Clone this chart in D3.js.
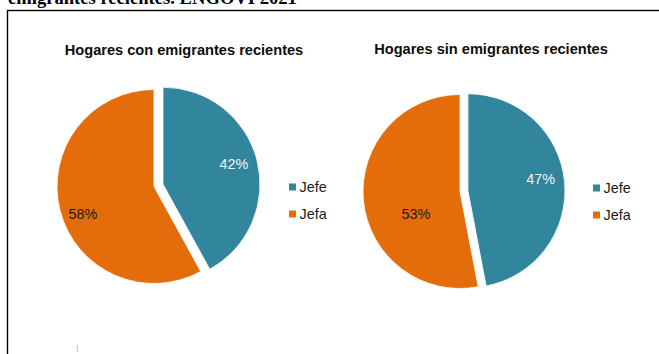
<!DOCTYPE html>
<html>
<head>
<meta charset="utf-8">
<script src="https://cdn.jsdelivr.net/npm/d3@7/dist/d3.min.js"></script>
<style>
  html, body { margin: 0; padding: 0; background: #fff; }
  svg { display: block; }
</style>
</head>
<body>
<svg id="chart" width="659" height="354"></svg>
<script>
// Sexo de la jefatura del hogar según condición de emigración reciente
const categories = ["Jefe", "Jefa"];
const conEmigrantes = [42, 58];
const sinEmigrantes = [47, 53];
const chartTitles = ["Hogares con emigrantes recientes", "Hogares sin emigrantes recientes"];
const heading = "emigrantes recientes. ENGOVI 2021";

const colors = d3.scaleOrdinal().domain(categories).range(["#31859C", "#E46C0A"]);

const svg = d3.select("#chart");

// running heading, partly scrolled out above the frame
svg.append("text")
  .attr("x", 8).attr("y", 4)
  .attr("font-family", "'Liberation Serif', 'Times New Roman', serif")
  .attr("font-weight", "bold")
  .attr("font-size", 18.6)
  .attr("fill", "#000")
  .text(heading);

// chart frame
svg.append("rect")
  .attr("x", 7.5).attr("y", 10.5)
  .attr("width", 700).attr("height", 400)
  .attr("fill", "#fff")
  .attr("stroke", "#000").attr("stroke-width", 1.4);

// small cursor mark near the bottom
svg.append("line")
  .attr("x1", 77.5).attr("x2", 77.5)
  .attr("y1", 345).attr("y2", 352)
  .attr("stroke", "#d0d0d0").attr("stroke-width", 1.5);

// layout of the two pies; label placement is polar (deg offset from mid-angle, fraction of radius)
const panels = [
  { values: conEmigrantes, title: chartTitles[0], cx: 154, cy: 186.5, r: 97, explode: 9.3,
    titleX: 184, titleY: 54.5, legendX: 289, legendY: 187,
    labelPos: [{ da: -1.5, f: 0.76 }, { da: -6.6, f: 0.785 }] },
  { values: sinEmigrantes, title: chartTitles[1], cx: 460, cy: 191.5, r: 97, explode: 8,
    titleX: 491, titleY: 53.5, legendX: 593, legendY: 188,
    labelPos: [{ da: -4, f: 0.76 }, { da: -21.6, f: 0.51 }] }
];

const pie = d3.pie().sort(null).value(d => d.value);

panels.forEach(p => {
  const g = svg.append("g");
  const data = categories.map((c, i) => ({ cat: c, value: p.values[i] }));
  const arcs = pie(data);
  const arc = d3.arc().innerRadius(0).outerRadius(p.r);

  g.append("text")
    .attr("x", p.titleX).attr("y", p.titleY)
    .attr("text-anchor", "middle")
    .attr("font-family", "'Liberation Sans', Arial, sans-serif")
    .attr("font-weight", "bold")
    .attr("font-size", 14.6)
    .attr("fill", "#0d0d0d")
    .text(p.title);

  arcs.forEach((a, i) => {
    const mid = (a.startAngle + a.endAngle) / 2;
    const off = i === 0 ? p.explode : 0;
    const ox = p.cx + off * Math.sin(mid);
    const oy = p.cy - off * Math.cos(mid);
    const sg = g.append("g").attr("transform", `translate(${ox},${oy})`);
    sg.append("path")
      .attr("d", arc(a))
      .attr("fill", colors(a.data.cat))
      .attr("stroke", "#fff").attr("stroke-width", 0.8);

    const lp = p.labelPos[i];
    const ang = mid + lp.da * Math.PI / 180;
    const lr = lp.f * p.r;
    sg.append("text")
      .attr("x", lr * Math.sin(ang))
      .attr("y", -lr * Math.cos(ang))
      .attr("dy", "0.35em")
      .attr("text-anchor", "middle")
      .attr("font-family", "'Liberation Sans', Arial, sans-serif")
      .attr("font-size", 14.4)
      .attr("fill", i === 0 ? "#f2f2f2" : "#1a1a1a")
      .text(a.data.value + "%");
  });

  const leg = g.append("g").attr("transform", `translate(${p.legendX},${p.legendY})`);
  categories.forEach((c, i) => {
    const row = leg.append("g").attr("transform", `translate(0,${i * 27})`);
    row.append("rect")
      .attr("x", 0).attr("y", -3.5)
      .attr("width", 7).attr("height", 7)
      .attr("fill", colors(c));
    row.append("text")
      .attr("x", 10.5).attr("y", 0)
      .attr("dy", "0.35em")
      .attr("font-family", "'Liberation Sans', Arial, sans-serif")
      .attr("font-size", 14.4)
      .attr("fill", "#1a1a1a")
      .text(c);
  });
});
</script>
</body>
</html>
